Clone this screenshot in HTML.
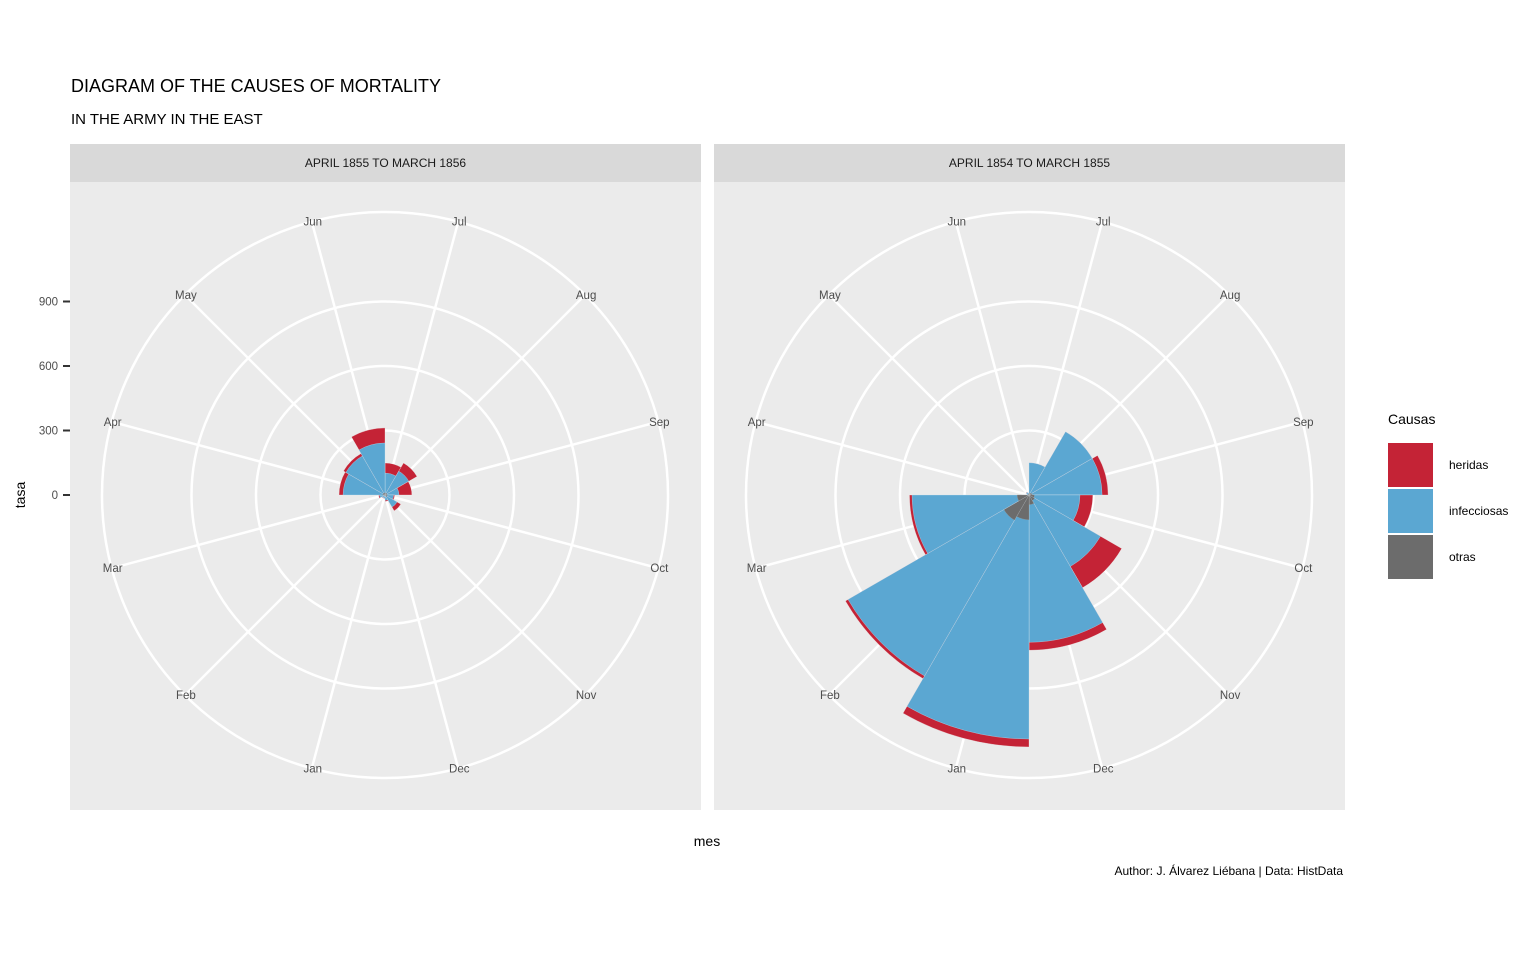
<!DOCTYPE html>
<html><head><meta charset="utf-8"><style>
body{margin:0;background:#fff;font-family:"Liberation Sans",sans-serif}
svg text{font-family:"Liberation Sans",sans-serif}
</style></head><body>
<svg id="chart" width="1536" height="960" viewBox="0 0 1536 960">
<text x="71" y="92" font-size="18" fill="#000">DIAGRAM OF THE CAUSES OF MORTALITY</text>
<text x="71" y="124" font-size="15" fill="#000">IN THE ARMY IN THE EAST</text>
<text transform="translate(25,495) rotate(-90)" text-anchor="middle" font-size="14">tasa</text>
<text x="707" y="846" text-anchor="middle" font-size="14">mes</text>
<text x="1343" y="875" text-anchor="end" font-size="12">Author: J. Álvarez Liébana | Data: HistData</text>
<g id="panels"></g>
<g>
<text x="1388" y="424" font-size="14">Causas</text>
<rect x="1388" y="443" width="45" height="44" fill="#c42336"/>
<text x="1449" y="469" font-size="12">heridas</text>
<rect x="1388" y="489" width="45" height="44" fill="#5ba7d2"/>
<text x="1449" y="515" font-size="12">infecciosas</text>
<rect x="1388" y="535" width="45" height="44" fill="#6c6c6c"/>
<text x="1449" y="561" font-size="12">otras</text>
</g>
</svg>
<script>
const months = ["Jul","Aug","Sep","Oct","Nov","Dec","Jan","Feb","Mar","Apr","May","Jun"];
const yTicks = [0,300,600,900];
const panelTitles = ["APRIL 1855 TO MARCH 1856","APRIL 1854 TO MARCH 1855"];
// left panel (1855-56)
const otrasA = [10,10,10,10,10,5,5,5,5,10,10,10];
const infeccA = [92,118,55,30,55,20,10,10,20,185,200,232];
const heridasA = [47,44,60,5,20,5,2,2,5,19,13,70];
// right panel (1854-55)
const otrasB = [10,10,15,25,30,45,115,135,55,5,5,5];
const infeccB = [140,330,325,212,354,640,1020,837,489,5,10,5];
const heridasB = [0,0,28,60,114,37,37,14,12,0,2,0];

const NS="http://www.w3.org/2000/svg";
const root=document.getElementById('panels');
const PX=64.5/300; // px per unit
function rScale(v){return v*PX;}
function aScale(i){return i*30;}
function pt(cx,cy,r,deg){const a=deg*Math.PI/180;return [cx+r*Math.sin(a),cy-r*Math.cos(a)];}
function mk(tag,attrs,parent){const e=document.createElementNS(NS,tag);for(const k in attrs)e.setAttribute(k,attrs[k]);parent.appendChild(e);return e;}
function wedge(cx,cy,r,a0,a1){if(r<=0)return "";const p0=pt(cx,cy,r,a0),p1=pt(cx,cy,r,a1);
return `M${cx},${cy}L${p0[0]},${p0[1]}A${r},${r} 0 0 1 ${p1[0]},${p1[1]}Z`;}

function panel(x0,title,og,inf,her,idx){
  const g=mk('g',{},root);
  
  
  const bg=mk('rect',{x:x0,y:182,width:631,height:628,fill:'#ebebeb'},g);
  
  
  const st=mk('rect',{x:x0,y:144,width:631,height:38,fill:'#d9d9d9'},g);
  
  
  const tt=mk('text',{x:x0+315.5,y:167,'text-anchor':'middle','font-size':12,fill:'#1a1a1a'},g);
  tt.textContent=title;
  
  
  const cx=x0+315,cy=495;
  [300,600,900].forEach(v=>{const c=mk('circle',{cx:cx,cy:cy,r:rScale(v),fill:'none',stroke:'#fff','stroke-width':2.5},g);
    
    });
  const oc=mk('circle',{cx:cx,cy:cy,r:283,fill:'none',stroke:'#fff','stroke-width':2.5},g);
  
  
  months.forEach((m,i)=>{const a=aScale(i)+15;const p=pt(cx,cy,283,a);
    const l=mk('line',{x1:cx,y1:cy,x2:p[0],y2:p[1],stroke:'#fff','stroke-width':2.5},g);
    
    });
  months.forEach((m,i)=>{
    const a0=aScale(i),a1=aScale(i+1);
    const t=og[i]+inf[i]+her[i];
    const r=mk('path',{d:wedge(cx,cy,rScale(t),a0,a1),fill:'#c42336',stroke:'#eee','stroke-width':0.3},g);
    
    
    const b=mk('path',{d:wedge(cx,cy,rScale(og[i]+inf[i]),a0,a1),fill:'#5ba7d2',stroke:'#cfe3ef','stroke-width':0.3},g);
    
    
    const o=mk('path',{d:wedge(cx,cy,rScale(og[i]),a0,a1),fill:'#6c6c6c',stroke:'#999','stroke-width':0.3},g);
    
    
  });
  months.forEach((m,i)=>{const p=pt(cx,cy,283,aScale(i)+15);
    const lt=mk('text',{x:p[0]+1,y:p[1]+4,'text-anchor':'middle','font-size':11.5,fill:'#4d4d4d'},g);
    lt.textContent=m;
    
    });
}
panel(70,panelTitles[0],otrasA,infeccA,heridasA,0);
panel(714,panelTitles[1],otrasB,infeccB,heridasB,1);
const ax=mk('g',{},root);


yTicks.forEach(v=>{const y=495-rScale(v);
  const tk=mk('line',{x1:63,x2:70,y1:y,y2:y,stroke:'#333','stroke-width':2},ax);
  
  
  const tl=mk('text',{x:58,y:y+4,'text-anchor':'end','font-size':11.5,fill:'#4d4d4d'},ax);
  tl.textContent=v;
  
  });
</script>
</body></html>
